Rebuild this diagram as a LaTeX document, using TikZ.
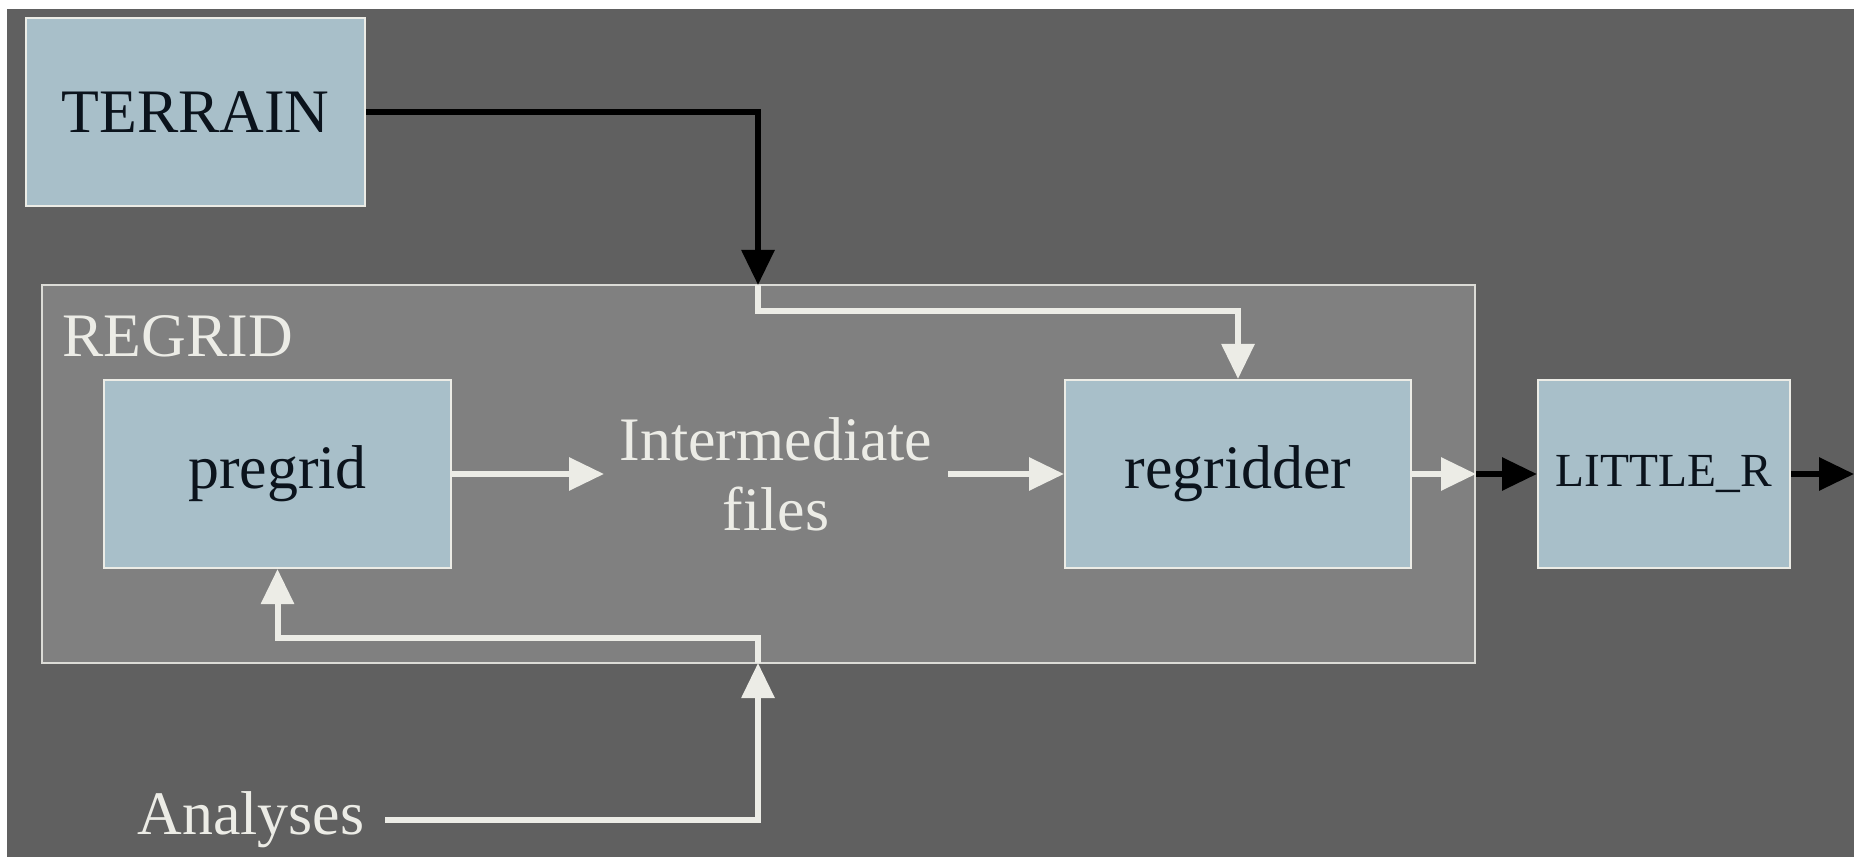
\documentclass[tikz,border=0pt]{standalone}
\usepackage{fontspec}
\setmainfont{Liberation Serif}
\usetikzlibrary{arrows.meta}

\definecolor{bggray}{HTML}{606060}
\definecolor{regridgray}{HTML}{808080}
\definecolor{boxblue}{HTML}{A8BFC9}
\definecolor{inkdark}{HTML}{0B131C}
\definecolor{chalk}{HTML}{ECECE6}

\newcommand\bigtxt{\fontsize{17.6}{20}\selectfont}
\newcommand\smalltxt{\fontsize{13.5}{16}\selectfont}

\tikzset{
  prog/.style={draw=chalk, line width=0.02cm, fill=boxblue, text=inkdark,
    minimum height=1.88cm, inner sep=0pt, font=\bigtxt},
  lbl/.style={text=chalk, font=\bigtxt, inner sep=0.15cm},
  wflow/.style={draw=chalk, line width=0.06cm,
    -{Triangle[length=0.35cm,width=0.32cm]}},
  kflow/.style={draw=black, line width=0.06cm,
    -{Triangle[length=0.35cm,width=0.32cm]}},
}

\begin{document}
\begin{tikzpicture}
  \useasboundingbox (0,0) rectangle (18.62,8.57);
  \fill[white] (0,0) rectangle (18.62,8.57);
  \fill[bggray] (0.07,0) rectangle (18.54,8.48);

  % the regrid package frame
  \node[draw=chalk!85!gray, fill=regridgray, line width=0.02cm, inner sep=0pt,
    minimum width=14.33cm, minimum height=3.78cm] (regrid) at (7.585,3.83) {};
  \node[lbl, anchor=west, inner sep=0pt] (regridname) at (0.62,5.21) {REGRID};

  \node[prog, minimum width=3.39cm] (terrain) at (1.955,7.45) {TERRAIN};
  \node[prog, minimum width=3.47cm] (pregrid) at (2.775,3.83) {pregrid};
  \node[prog, minimum width=3.46cm] (regridder) at (12.38,3.83) {regridder};
  \node[prog, minimum width=2.52cm, font=\smalltxt] (littler) at (16.64,3.83) {LITTLE\_R};
  \node[lbl, align=center] (inter) at (7.76,3.83) {Intermediate\\files};
  \node[lbl, inner sep=0.2cm] (analyses) at (2.51,0.37) {Analyses};

  \coordinate (tin) at (7.58,5.72);
  \coordinate (ain) at (7.58,1.94);
  \coordinate (rout) at (regrid.east |- regridder.east);
  \coordinate (rend) at (18.54,3.83);

  \draw[kflow] (terrain.east) -| (tin);
  \draw[wflow] (tin) -- ++(0,-0.26) -| (regridder.north);
  \draw[wflow] (pregrid.east) -- (inter.west);
  \draw[wflow] (inter.east) -- (regridder.west);
  \draw[wflow] (regridder.east) -- (rout);
  \draw[kflow] (rout) -- (littler.west);
  \draw[kflow] (littler.east) -- (rend);
  \draw[wflow] (analyses.east) -| (ain);
  \draw[wflow] (ain) -- ++(0,0.25) -| (pregrid.south);
\end{tikzpicture}
\end{document}
